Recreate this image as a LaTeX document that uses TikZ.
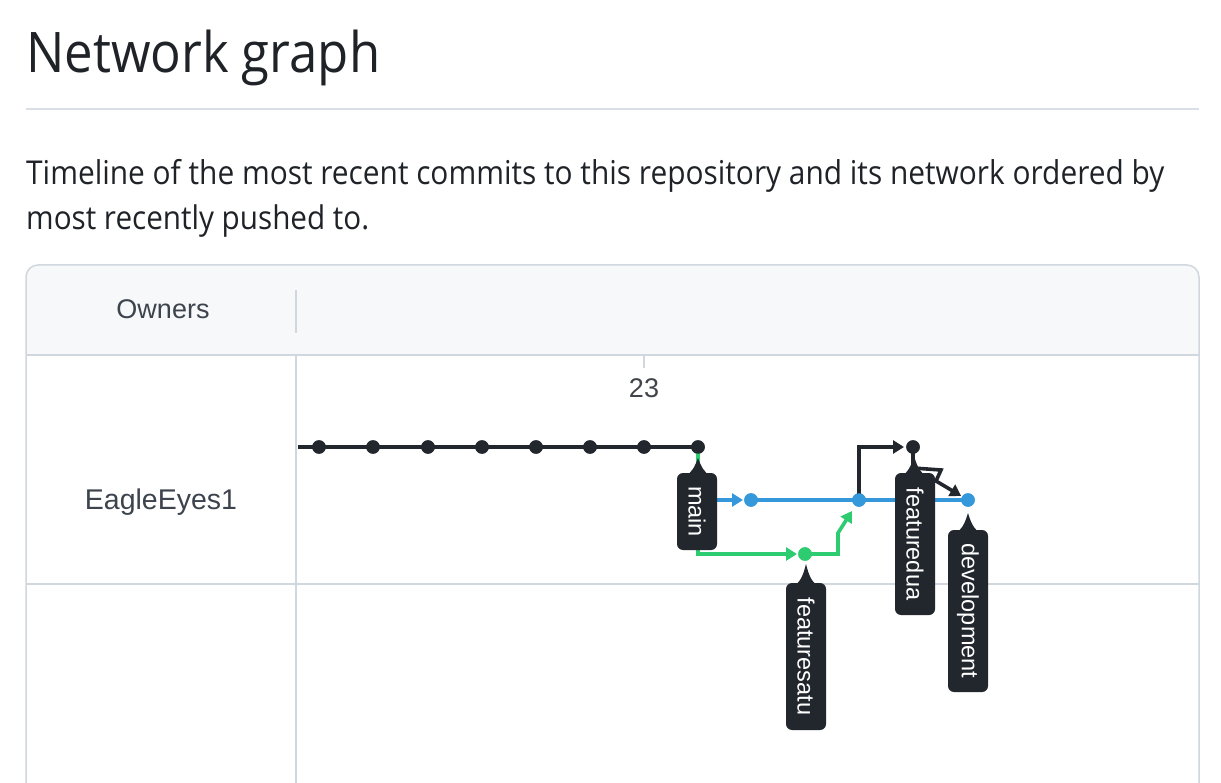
\documentclass[tikz,border=0pt]{standalone}
\usepackage{fontspec}
\setmainfont{Open Sans}
\newfontfamily\arialf{Liberation Sans}
\usetikzlibrary{arrows.meta}
\definecolor{ink}{HTML}{1F2328}
\definecolor{dk}{HTML}{22272E}
\definecolor{gblue}{HTML}{3598DB}
\definecolor{ggreen}{HTML}{2ECC71}
\definecolor{bd}{HTML}{D0D7DE}
\definecolor{hdr}{HTML}{F6F8FA}
\definecolor{gray7}{HTML}{3D444D}
\newcommand\ptr[3]{\fill[dk] (#1-13,#2+3) .. controls (#1-6,#2) and (#1-3,#2-7) .. (#1,#3) .. controls (#1+3,#2-7) and (#1+6,#2) .. (#1+13,#2+3) -- cycle;}
\tikzset{
  dot/.style={circle,inner sep=0pt,minimum size=13.5pt},
  kdot/.style={dot,fill=dk},
  bdot/.style={dot,fill=gblue},
  gdot/.style={dot,fill=ggreen},
  kline/.style={draw=dk,line width=3.6pt},
  bline/.style={draw=gblue,line width=3.6pt},
  gline/.style={draw=ggreen,line width=3.6pt},
  tip/.style={-{Triangle[length=11pt,width=13pt]}},
  lbl/.style={fill=dk,text=white,rounded corners=6pt,rotate=-90,minimum height=40pt,inner sep=0pt,font=\arialf\fontsize{23.5}{23.5}\selectfont},
  cell/.style={text=gray7,font=\arialf\fontsize{27}{27}\selectfont,inner sep=0pt}
}
\begin{document}
\begin{tikzpicture}[x=1pt,y=-1pt]
\useasboundingbox (0,0) rectangle (1221,783);
\fill[white] (0,0) rectangle (1221,783);
% heading
\node[anchor=base west,inner sep=0pt,text=ink] (title) at (26,73) {\scalebox{1}[1.1]{\resizebox{354pt}{!}{Network graph}}};
\draw[draw=bd!80,line width=2pt] (26,109) -- (1199,109);
\node[anchor=base west,inner sep=0pt,text=ink] (p1) at (26,185) {\scalebox{1}[1.1]{\resizebox{1138pt}{!}{Timeline of the most recent commits to this repository and its network ordered by}}};
\node[anchor=base west,inner sep=0pt,text=ink] (p2) at (26,230) {\scalebox{1}[1.1]{\resizebox{343pt}{!}{most recently pushed to.}}};
% table frame
\fill[hdr] (26,355) [rounded corners=12pt] -- (26,265) -- (1199,265) [sharp corners] -- (1199,355) -- cycle;
\draw[bd,line width=1.5pt] (26,783) [rounded corners=12pt] -- (26,265) -- (1199,265) [sharp corners] -- (1199,783);
\draw[bd,line width=1.5pt] (26,355) -- (1199,355);
\draw[bd,line width=1.5pt] (26,584) -- (1199,584);
\draw[bd,line width=1.5pt] (296,290) -- (296,333);
\draw[bd,line width=1.5pt] (296,355) -- (296,783);
\draw[bd,line width=1.5pt] (644,355) -- (644,368);
\node[cell] (owners) at (163,309) {Owners};
\node[cell,font=\arialf\fontsize{28.5}{28.5}\selectfont] (owner1) at (161,502) {EagleEyes1};
\node[cell,text=ink!85] (day) at (644,388) {23};
% commits
\coordinate (start) at (298,447);
\foreach \i/\x in {1/319,2/373,3/428,4/482,5/536,6/590,7/644,8/698}
  \node[kdot] (c\i) at (\x,447) {};
\node[bdot] (b1) at (751,500) {};
\node[bdot] (b2) at (859,500) {};
\node[bdot] (b3) at (968,500) {};
\node[gdot] (g1) at (805,554) {};
\node[kdot] (k1) at (913,447) {};
% connectors
\draw[kline] (start) -- (c8.center);
\draw[bline,tip,shorten >=8pt] (c8.center) |- (b1.center);
\draw[gline,tip,shorten >=8pt] (c8.center) |- (g1.center);
\draw[bline] (b1.center) -- (b3.center);
\draw[gline,tip,shorten >=13pt] (g1.center) -- (838,554) -- (838,533) -- (b2.center);
\draw[kline,tip,shorten >=9pt] (b2.center) |- (k1.center);
\draw[kline,tip,shorten >=8pt] (k1.center) -- (913,468) -- (941,470) -- (936,481) -- (b3.center);
% dots on top of connectors
\foreach \i in {1,...,8}
  \fill[dk] (c\i) circle (6.75pt);
\fill[gblue] (b1) circle (6.75pt);
\fill[gblue] (b2) circle (6.75pt);
\fill[gblue] (b3) circle (6.75pt);
\fill[ggreen] (g1) circle (6.75pt);
\fill[dk] (k1) circle (6.75pt);
% branch labels
\ptr{698}{473}{458}
\node[lbl,minimum width=77pt] (Lmain) at (697,511.5) {main};
\ptr{806}{583}{564}
\node[lbl,minimum width=147pt] (Lsatu) at (806,656.5) {featuresatu};
\ptr{914}{473}{456}
\node[lbl,minimum width=142pt] (Ldua) at (915,544) {featuredua};
\ptr{968}{530}{513}
\node[lbl,minimum width=162pt] (Ldev) at (968,611) {development};
\end{tikzpicture}
\end{document}
